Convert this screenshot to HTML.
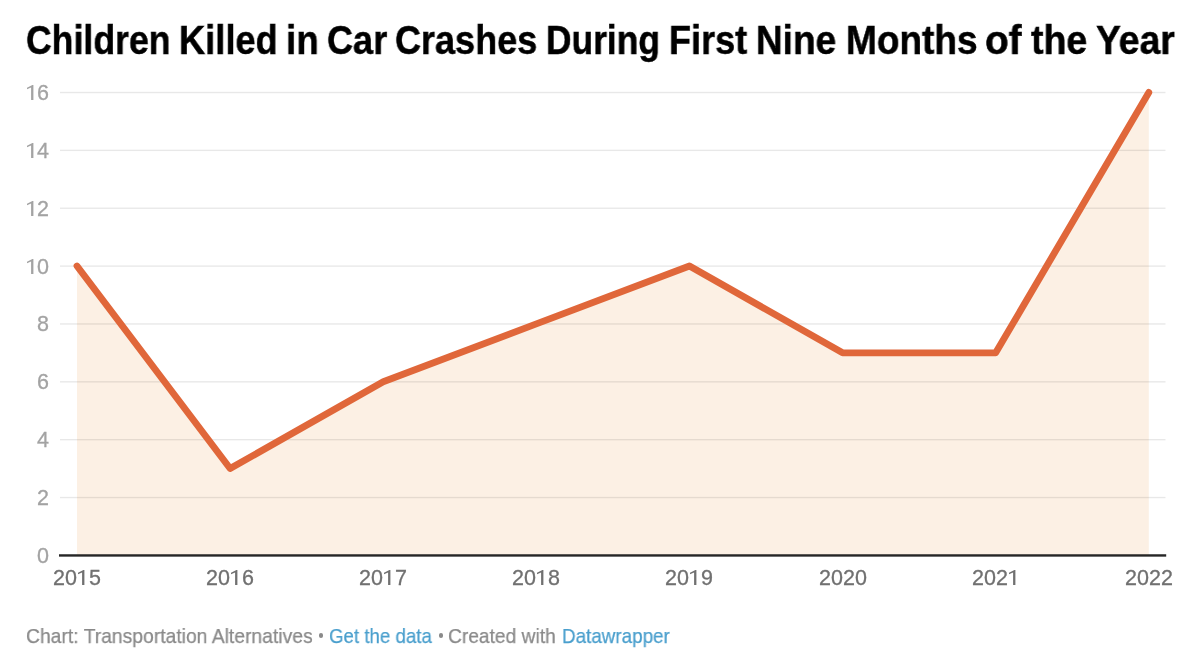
<!DOCTYPE html>
<html><head><meta charset="utf-8">
<style>
html,body{margin:0;padding:0;background:#fff;}
body{width:1200px;height:667px;position:relative;overflow:hidden;font-family:"Liberation Sans",sans-serif;}
.tw{position:absolute;top:16px;font-size:41px;font-weight:bold;color:#000;white-space:nowrap;line-height:48px;transform-origin:0 0;will-change:transform;-webkit-text-stroke:0.5px #000;}
.yl{position:absolute;left:0;width:49px;text-align:right;font-size:21.5px;-webkit-text-stroke:0.3px #a3a3a3;line-height:24px;color:#a3a3a3;will-change:transform;}
.xl{position:absolute;top:566.2px;width:80px;text-align:center;font-size:21.5px;-webkit-text-stroke:0.3px #707070;line-height:24px;color:#707070;will-change:transform;}
.f{position:absolute;top:623.6px;font-size:21px;-webkit-text-stroke:0.25px currentColor;line-height:24px;color:#8a8a8a;white-space:nowrap;transform-origin:0 0;will-change:transform;}
.f.lk{color:#4a9fcd;}
.d1{position:relative;color:transparent;-webkit-text-stroke:0 transparent;}
.d1 svg{position:absolute;overflow:visible;}
.dot{position:absolute;top:633px;width:4.5px;height:4.5px;border-radius:50%;background:#8a8a8a;}
svg{position:absolute;left:0;top:0;}
</style></head><body>
<div class="tw" style="left:25.56px;transform:scaleX(0.8691)">Children</div>
<div class="tw" style="left:178.65px;transform:scaleX(0.8849)">Killed</div>
<div class="tw" style="left:285.61px;transform:scaleX(0.8968)">in</div>
<div class="tw" style="left:326.64px;transform:scaleX(0.8803)">Car</div>
<div class="tw" style="left:395.24px;transform:scaleX(0.8791)">Crashes</div>
<div class="tw" style="left:546.21px;transform:scaleX(0.8630)">During</div>
<div class="tw" style="left:668.86px;transform:scaleX(0.8791)">First</div>
<div class="tw" style="left:756.29px;transform:scaleX(0.9029)">Nine</div>
<div class="tw" style="left:845.69px;transform:scaleX(0.9021)">Months</div>
<div class="tw" style="left:985.36px;transform:scaleX(0.9459)">of</div>
<div class="tw" style="left:1031.25px;transform:scaleX(0.9125)">the</div>
<div class="tw" style="left:1095.59px;transform:scaleX(0.9082)">Year</div>

<svg width="1200" height="667" viewBox="0 0 1200 667">
<path d="M77.00,266.00 L230.11,468.51 L383.23,381.72 L536.34,323.86 L689.46,266.00 L842.57,352.79 L995.69,352.79 L1148.80,92.42 L1148.80,555.30 L77.00,555.30 Z" fill="#fcf0e4"/>
<rect x="60" y="496.84" width="1105.5" height="1.4" fill="#000" fill-opacity="0.09"/>
<rect x="60" y="438.98" width="1105.5" height="1.4" fill="#000" fill-opacity="0.09"/>
<rect x="60" y="381.12" width="1105.5" height="1.4" fill="#000" fill-opacity="0.09"/>
<rect x="60" y="323.26" width="1105.5" height="1.4" fill="#000" fill-opacity="0.09"/>
<rect x="60" y="265.40" width="1105.5" height="1.4" fill="#000" fill-opacity="0.09"/>
<rect x="60" y="207.54" width="1105.5" height="1.4" fill="#000" fill-opacity="0.09"/>
<rect x="60" y="149.68" width="1105.5" height="1.4" fill="#000" fill-opacity="0.09"/>
<rect x="60" y="91.82" width="1105.5" height="1.4" fill="#000" fill-opacity="0.09"/>

<rect x="59" y="554.25" width="1107.2" height="2.4" fill="#262626"/>
<path d="M77.00,266.00 L230.11,468.51 L383.23,381.72 L536.34,323.86 L689.46,266.00 L842.57,352.79 L995.69,352.79 L1148.80,92.42" fill="none" stroke="#e0673a" stroke-width="6.8" stroke-linejoin="round" stroke-linecap="round"/>
</svg>
<div class="yl" style="top:543.80px">0</div>
<div class="yl" style="top:485.94px">2</div>
<div class="yl" style="top:428.08px">4</div>
<div class="yl" style="top:370.22px">6</div>
<div class="yl" style="top:312.36px">8</div>
<div class="yl" style="top:254.50px"><span class="d1">1<svg width="14" height="24" viewBox="0 0 14 24" style="left:2.30px;top:4.3px"><path d="M6.4,0 L6.4,15.1 L4.1,15.1 L4.1,2.6 L0,4.3 L0,2.7 L5.4,0 Z" fill="#a3a3a3"/></svg></span>0</div>
<div class="yl" style="top:196.64px"><span class="d1">1<svg width="14" height="24" viewBox="0 0 14 24" style="left:2.30px;top:4.3px"><path d="M6.4,0 L6.4,15.1 L4.1,15.1 L4.1,2.6 L0,4.3 L0,2.7 L5.4,0 Z" fill="#a3a3a3"/></svg></span>2</div>
<div class="yl" style="top:138.78px"><span class="d1">1<svg width="14" height="24" viewBox="0 0 14 24" style="left:2.30px;top:4.3px"><path d="M6.4,0 L6.4,15.1 L4.1,15.1 L4.1,2.6 L0,4.3 L0,2.7 L5.4,0 Z" fill="#a3a3a3"/></svg></span>4</div>
<div class="yl" style="top:80.92px"><span class="d1">1<svg width="14" height="24" viewBox="0 0 14 24" style="left:2.30px;top:4.3px"><path d="M6.4,0 L6.4,15.1 L4.1,15.1 L4.1,2.6 L0,4.3 L0,2.7 L5.4,0 Z" fill="#a3a3a3"/></svg></span>6</div>

<div class="xl" style="left:37.00px">20<span class="d1">1<svg width="14" height="24" viewBox="0 0 14 24" style="left:1.00px;top:4.3px"><path d="M6.4,0 L6.4,15.1 L4.1,15.1 L4.1,2.6 L0,4.3 L0,2.7 L5.4,0 Z" fill="#707070"/></svg></span>5</div>
<div class="xl" style="left:190.11px">20<span class="d1">1<svg width="14" height="24" viewBox="0 0 14 24" style="left:1.00px;top:4.3px"><path d="M6.4,0 L6.4,15.1 L4.1,15.1 L4.1,2.6 L0,4.3 L0,2.7 L5.4,0 Z" fill="#707070"/></svg></span>6</div>
<div class="xl" style="left:343.23px">20<span class="d1">1<svg width="14" height="24" viewBox="0 0 14 24" style="left:1.00px;top:4.3px"><path d="M6.4,0 L6.4,15.1 L4.1,15.1 L4.1,2.6 L0,4.3 L0,2.7 L5.4,0 Z" fill="#707070"/></svg></span>7</div>
<div class="xl" style="left:496.34px">20<span class="d1">1<svg width="14" height="24" viewBox="0 0 14 24" style="left:1.00px;top:4.3px"><path d="M6.4,0 L6.4,15.1 L4.1,15.1 L4.1,2.6 L0,4.3 L0,2.7 L5.4,0 Z" fill="#707070"/></svg></span>8</div>
<div class="xl" style="left:649.46px">20<span class="d1">1<svg width="14" height="24" viewBox="0 0 14 24" style="left:1.00px;top:4.3px"><path d="M6.4,0 L6.4,15.1 L4.1,15.1 L4.1,2.6 L0,4.3 L0,2.7 L5.4,0 Z" fill="#707070"/></svg></span>9</div>
<div class="xl" style="left:802.57px">2020</div>
<div class="xl" style="left:955.69px">202<span class="d1">1<svg width="14" height="24" viewBox="0 0 14 24" style="left:1.00px;top:4.3px"><path d="M6.4,0 L6.4,15.1 L4.1,15.1 L4.1,2.6 L0,4.3 L0,2.7 L5.4,0 Z" fill="#707070"/></svg></span></div>
<div class="xl" style="left:1108.80px">2022</div>

<div class="f" style="left:25.98px;transform:scaleX(0.9197)">Chart: Transportation Alternatives</div>
<div class="f lk" style="left:329.11px;transform:scaleX(0.8896)">Get the data</div>
<div class="f" style="left:448.39px;transform:scaleX(0.9138)">Created with</div>
<div class="f lk" style="left:561.50px;transform:scaleX(0.8966)">Datawrapper</div>

<div class="dot" style="left:318.75px"></div>
<div class="dot" style="left:438.5px"></div>
</body></html>
